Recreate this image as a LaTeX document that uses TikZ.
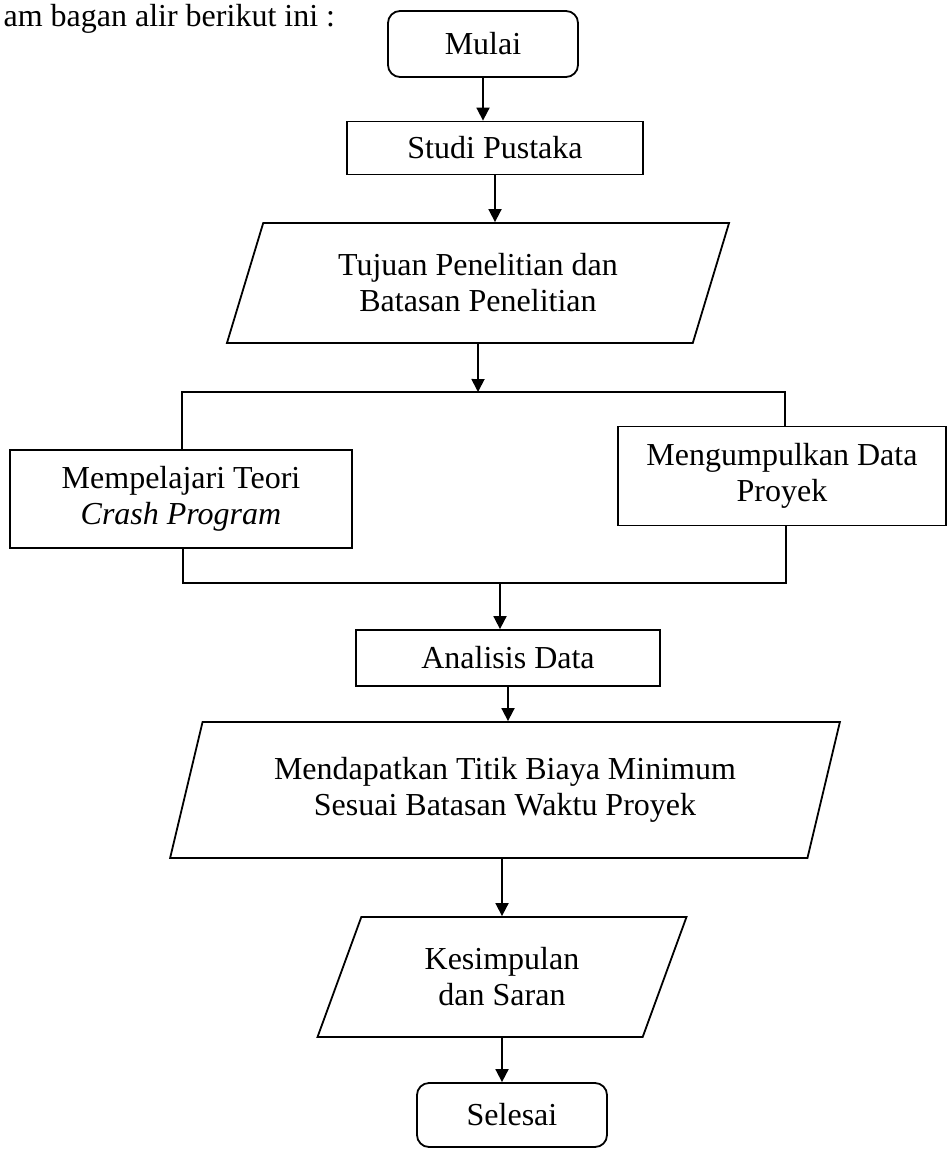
\documentclass[tikz,border=0pt]{standalone}
\usepackage{fontspec}
\setmainfont{Liberation Serif}
\usetikzlibrary{shapes.geometric,arrows.meta}

\begin{document}
\begin{tikzpicture}[x=0.5pt, y=-0.5pt, line width=0.9pt,
        every node/.style={font=\fontsize{16}{18}\selectfont, align=center},
        term/.style={draw, rounded corners=6pt, minimum width=95pt, minimum height=33pt},
        proc/.style={draw, minimum width=148pt, minimum height=27pt},
        io/.style={draw, trapezium, trapezium stretches=true},
        arr/.style={-{Triangle[length=6.5pt,width=6.5pt]}}]
        \useasboundingbox (0, 0) rectangle (947, 1150);

        \node[anchor=base west] (intro) at (-4, 27) {am bagan alir berikut ini :};
        \node[term] (mulai) at (483, 44) {Mulai};
        \node[proc, minimum height=26.5pt] (studi) at (495, 148) {Studi Pustaka};
        \node[io, trapezium left angle=71, trapezium right angle=109,
              minimum width=251.5pt, minimum height=60pt] (tujuan) at (478, 283)
              {Tujuan Penelitian dan\\Batasan Penelitian};
        \node[proc, minimum width=171pt, minimum height=49pt] (teori) at (181, 499)
              {Mempelajari Teori\\\textit{Crash Program}};
        \node[proc, minimum width=164pt, minimum height=49.5pt] (data) at (782, 476)
              {Mengumpulkan Data\\Proyek};
        \node[proc, minimum width=152pt, minimum height=28pt] (analisis) at (508, 658) {Analisis Data};
        \node[io, trapezium left angle=72, trapezium right angle=108,
              minimum width=335pt, minimum height=68pt] (biaya) at (505, 790)
              {Mendapatkan Titik Biaya Minimum\\Sesuai Batasan Waktu Proyek};
        \node[io, trapezium left angle=70, trapezium right angle=110,
              minimum width=184.5pt, minimum height=60pt] (simpul) at (502, 977)
              {Kesimpulan\\dan Saran};
        \node[term, minimum height=32pt] (selesai) at (512, 1115) {Selesai};

        \coordinate (split) at (478, 392);
        \coordinate (ls) at (182, 392);
        \coordinate (rs) at (785, 392);
        \coordinate (merge) at (500, 583);
        \coordinate (lm) at (183, 583);
        \coordinate (rm) at (786, 583);

        \draw[arr] (mulai.south) -- (mulai.south |- studi.north);
        \draw[arr] (studi.south) -- (studi.south |- tujuan.north);
        \draw[arr] (tujuan.south) -- (split);
        \draw (teori.north -| ls) -- (ls) -- (rs) -- (data.north -| rs);
        \draw (teori.south -| lm) -- (lm) -- (rm) -- (data.south -| rm);
        \draw[arr] (merge) -- (merge |- analisis.north);
        \draw[arr] (analisis.south) -- (analisis.south |- biaya.north);
        \draw[arr] (biaya.south -| simpul.north) -- (simpul.north);
        \draw[arr] (simpul.south) -- (simpul.south |- selesai.north);
    \end{tikzpicture}
\end{document}
